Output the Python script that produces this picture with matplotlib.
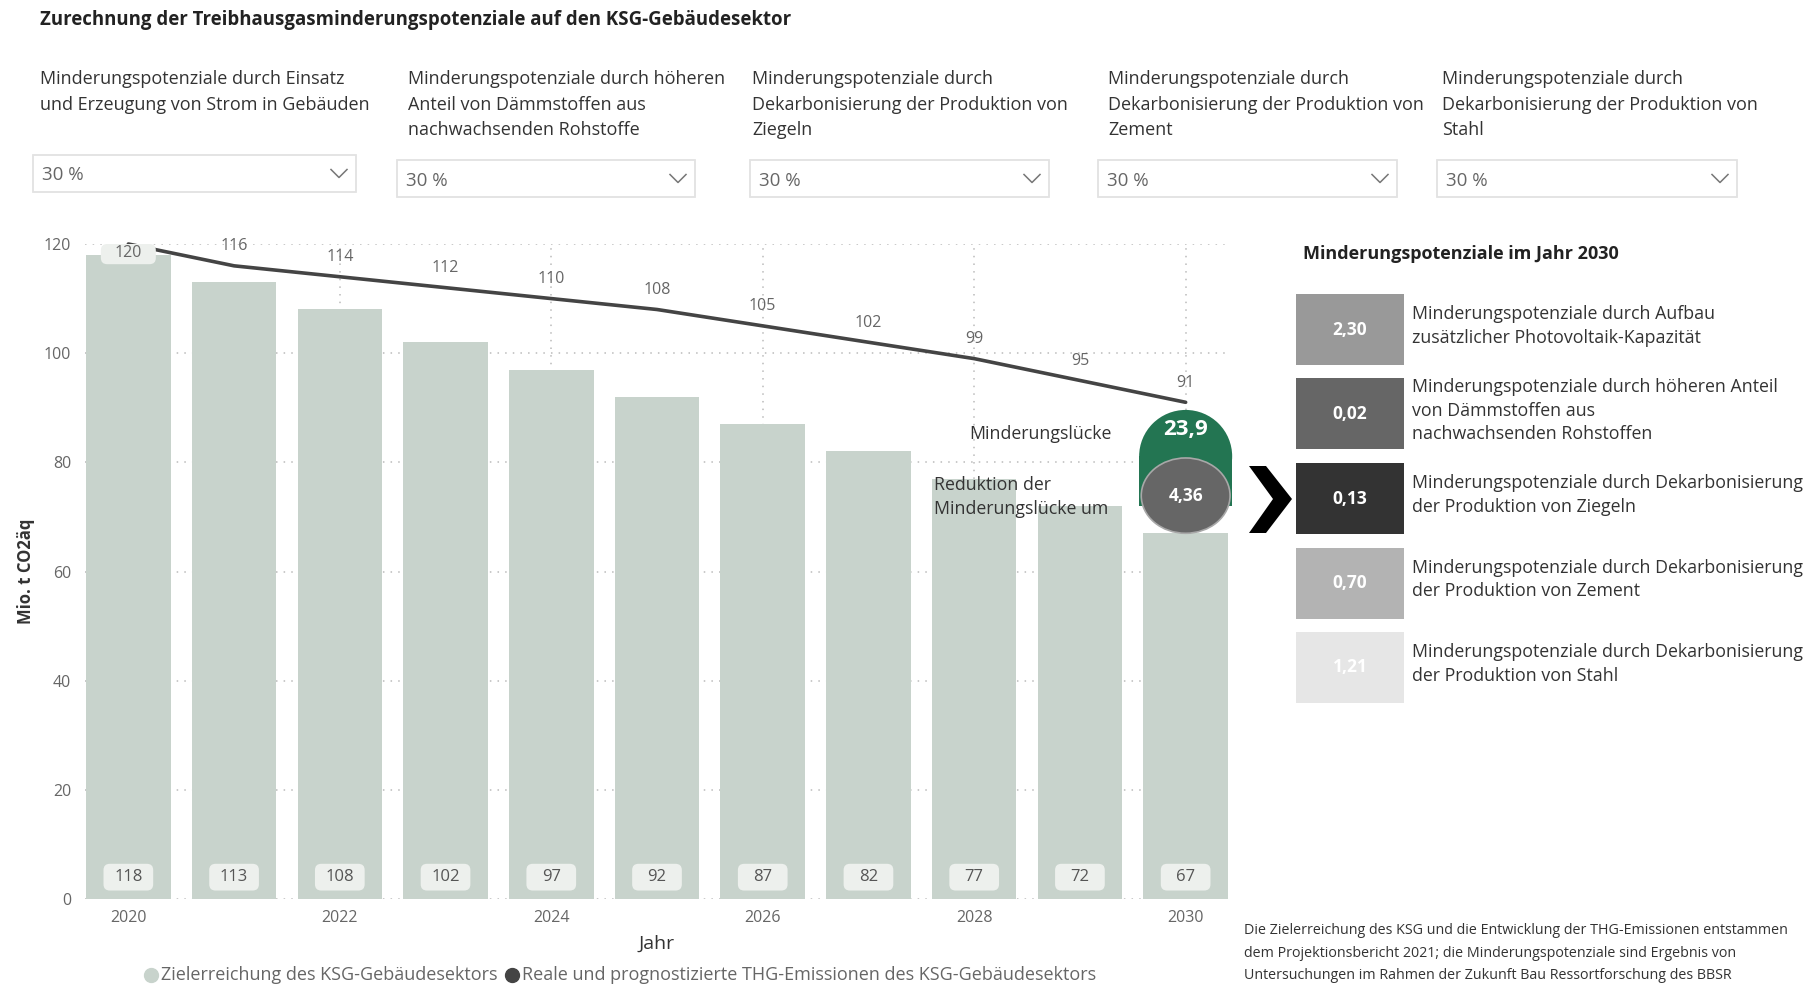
import numpy as np
import matplotlib.pyplot as plt
from matplotlib.patches import Rectangle, Ellipse, Polygon, FancyBboxPatch
from matplotlib.lines import Line2D

plt.rcParams['font.family'] = ['Open Sans', 'DejaVu Sans']

# Werte
jahre = np.arange(2020, 2031)
ziel = [118, 113, 108, 102, 97, 92, 87, 82, 77, 72, 67]
emissionen = [120, 116, 114, 112, 110, 108, 105, 102, 99, 95, 91]
luecke = 23.9
reduktion = 4.36

filter_titel = [
    "Minderungspotenziale durch Einsatz\nund Erzeugung von Strom in Gebäuden",
    "Minderungspotenziale durch höheren\nAnteil von Dämmstoffen aus\nnachwachsenden Rohstoffe",
    "Minderungspotenziale durch\nDekarbonisierung der Produktion von\nZiegeln",
    "Minderungspotenziale durch\nDekarbonisierung der Produktion von\nZement",
    "Minderungspotenziale durch\nDekarbonisierung der Produktion von\nStahl",
]
filter_wert = ["30 %", "30 %", "30 %", "30 %", "30 %"]

potenzial_werte = [2.30, 0.02, 0.13, 0.70, 1.21]
potenzial_texte = [
    "Minderungspotenziale durch Aufbau\nzusätzlicher Photovoltaik-Kapazität",
    "Minderungspotenziale durch höheren Anteil\nvon Dämmstoffen aus\nnachwachsenden Rohstoffen",
    "Minderungspotenziale durch Dekarbonisierung\nder Produktion von Ziegeln",
    "Minderungspotenziale durch Dekarbonisierung\nder Produktion von Zement",
    "Minderungspotenziale durch Dekarbonisierung\nder Produktion von Stahl",
]
potenzial_farben = ['#999999', '#666666', '#333333', '#b3b3b3', '#e6e6e6']

legende = ["Zielerreichung des KSG-Gebäudesektors",
           "Reale und prognostizierte THG-Emissionen des KSG-Gebäudesektors"]

fussnote = ("Die Zielerreichung des KSG und die Entwicklung der THG-Emissionen entstammen\n"
            "dem Projektionsbericht 2021; die Minderungspotenziale sind Ergebnis von\n"
            "Untersuchungen im Rahmen der Zukunft Bau Ressortforschung des BBSR")

BAR = '#c8d3cc'
LABELBOX = '#edf0ed'
LINIE = '#444444'
GRUEN = '#237552'

W, H = 1813, 988


def fx(x):
    return x / W


def fy(y):
    return 1 - y / H


def komma(v, n):
    return f"{v:.{n}f}".replace('.', ',')


fig = plt.figure(figsize=(W / 100, H / 100), dpi=100)

fig.text(fx(40), fy(20), "Zurechnung der Treibhausgasminderungspotenziale auf den KSG-Gebäudesektor",
         fontsize=13.4, fontweight='bold', color='#222222', va='center')

# Filterfelder oben
kopf_x = [40, 408, 752, 1108, 1442]
box_x = [(33, 356), (397, 695), (750, 1049), (1098, 1397), (1437, 1737)]
box_y = [(155, 192), (160, 197), (160, 197), (160, 197), (160, 197)]
for tx, titel, wert, (x0, x1), (y0, y1) in zip(kopf_x, filter_titel, filter_wert, box_x, box_y):
    fig.text(fx(tx), fy(70), titel, fontsize=13, color='#333333', va='top', linespacing=1.55)
    fig.add_artist(Rectangle((fx(x0), fy(y1)), fx(x1 - x0), (y1 - y0) / H,
                             transform=fig.transFigure, fc='white', ec='#e2e2e2', lw=1.3))
    cy = (y0 + y1) / 2
    fig.text(fx(x0 + 9), fy(cy + 2), wert, fontsize=13.5, color='#666666', va='center')
    cx = x1 - 17
    fig.add_artist(Line2D([fx(cx - 8), fx(cx), fx(cx + 8)], [fy(cy - 4), fy(cy + 4), fy(cy - 4)],
                          transform=fig.transFigure, color='#777777', lw=1.1))

# Hauptdiagramm
ax = fig.add_axes([fx(85), fy(899), fx(1229 - 85), (899 - 244) / H])
ax.bar(jahre, ziel, width=0.8, color=BAR, zorder=2)
ax.plot(jahre, emissionen, color=LINIE, lw=2.6, zorder=3, clip_on=False, solid_capstyle='round')

ax.set_xlim(2019.59, 2030.41)
ax.set_ylim(0, 120)
ax.set_yticks(range(0, 121, 20))
ax.set_xticks(range(2020, 2031, 2))
ax.grid(True, ls=(0, (1, 4)), color='#bbbbbb', lw=1.1, zorder=0)
for s in ax.spines.values():
    s.set_visible(False)
ax.tick_params(length=0, labelsize=11.5, labelcolor='#666666')
ax.tick_params(axis='x', pad=8)
ax.tick_params(axis='y', pad=10)
ax.set_xlabel("Jahr", fontsize=14, color='#333333', labelpad=6)
ax.set_ylabel("Mio. t CO2äq", fontsize=12, fontweight='bold', color='#333333', labelpad=6)

# Wertelabels am Fuß der Säulen
for x, v in zip(jahre, ziel):
    ax.add_patch(FancyBboxPatch((x - 0.235, 1.55), 0.47, 4.9,
                                boxstyle='round,pad=0,rounding_size=0.06', mutation_aspect=19,
                                fc=LABELBOX, ec='none', zorder=3))
    ax.text(x, 4.0, str(v), ha='center', va='center', fontsize=12, color='#555555', zorder=4)

# Wertelabels der Emissionslinie
for i, (x, v) in enumerate(zip(jahre, emissionen)):
    if i == 0:
        ax.add_patch(FancyBboxPatch((x - 0.26, v - 3.7), 0.52, 3.7,
                                    boxstyle='round,pad=0,rounding_size=0.06', mutation_aspect=19,
                                    fc=LABELBOX, ec='none', zorder=3))
        ax.text(x, v - 1.7, str(v), ha='center', va='center', fontsize=11.5, color='#666666', zorder=4)
    else:
        ax.annotate(str(v), (x, v), xytext=(0, 14), textcoords='offset points',
                    ha='center', va='center', fontsize=11.5, color='#666666', zorder=4,
                    annotation_clip=False)

# Minderungslücke 2030
xe = jahre[-1]
basis = ziel[-1]
oben = basis + luecke - 1.3
ry = 8.5
ax.add_patch(Ellipse((xe, oben - ry), 0.88, 2 * ry, fc=GRUEN, ec='none', zorder=5, clip_on=False))
ax.add_patch(Rectangle((xe - 0.44, basis + 5), 0.88, oben - ry - basis - 5, fc=GRUEN, ec='none',
                       zorder=5, clip_on=False))
ax.add_patch(Ellipse((xe, basis + 6.9), 0.84, 13.8, fc='#666666', ec='#a8a8a8', lw=1.2,
                     zorder=6, clip_on=False))
ax.text(xe, oben - 3.6, komma(luecke, 1), ha='center', va='center', fontsize=16,
        fontweight='bold', color='white', zorder=7)
ax.text(xe, basis + 6.9, komma(reduktion, 2), ha='center', va='center', fontsize=12.5,
        fontweight='bold', color='white', zorder=7)

fig.text(fx(969), fy(434), "Minderungslücke", fontsize=12.8, color='#333333', va='center')
fig.text(fx(934), fy(497), "Reduktion der\nMinderungslücke um", fontsize=12.8, color='#333333',
         va='center', linespacing=1.42)

# Pfeil
pfeil = [(1249, 466), (1266, 466), (1292, 499), (1266, 533), (1249, 533), (1273, 499)]
fig.add_artist(Polygon([(fx(a), fy(b)) for a, b in pfeil], closed=True,
                       transform=fig.transFigure, fc='black', ec='none'))

# Minderungspotenziale 2030
fig.text(fx(1303), fy(254), "Minderungspotenziale im Jahr 2030", fontsize=13, fontweight='bold',
         color='#222222', va='center')
for i, (v, t, c) in enumerate(zip(potenzial_werte, potenzial_texte, potenzial_farben)):
    y0 = 294 + i * 84.5
    fig.add_artist(Rectangle((fx(1296), fy(y0 + 71)), fx(108), 71 / H,
                             transform=fig.transFigure, fc=c, ec='none'))
    fig.text(fx(1350), fy(y0 + 35.5), komma(v, 2), fontsize=12.5, fontweight='bold',
             color='white', ha='center', va='center')
    fig.text(fx(1412), fy(y0 + 32), t, fontsize=12.8, color='#333333', va='center', linespacing=1.42)

# Legende
fig.add_artist(Line2D([fx(151)], [fy(975)], marker='o', ms=10, color=BAR, transform=fig.transFigure))
fig.text(fx(161), fy(975), legende[0], fontsize=13, color='#666666', va='center')
fig.add_artist(Line2D([fx(512)], [fy(975)], marker='o', ms=10, color=LINIE, transform=fig.transFigure))
fig.text(fx(522), fy(975), legende[1], fontsize=13, color='#666666', va='center')

fig.text(fx(1244), fy(953), fussnote, fontsize=10.3, color='#333333', va='center', linespacing=1.7)

fig.savefig("out.png", dpi=100, facecolor='white')
